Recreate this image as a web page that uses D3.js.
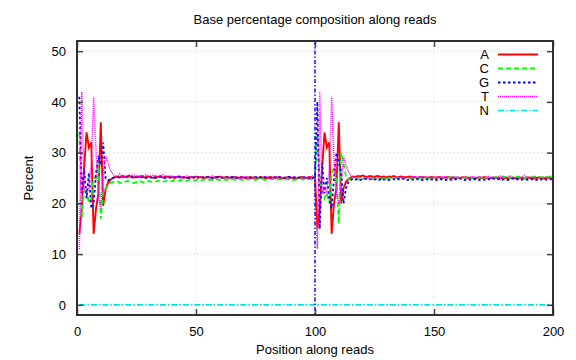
<!DOCTYPE html>
<html><head><meta charset="utf-8">
<script src="https://cdn.jsdelivr.net/npm/d3@7"></script>
<style>
html,body{margin:0;padding:0;background:#fff;}
svg{display:block;font-family:"Liberation Sans",Arial,Helvetica,sans-serif;}
</style></head>
<body><svg id="chart" width="576" height="360"></svg>
<script>
const title = "Base percentage composition along reads";
const xLabel = "Position along reads";
const yLabel = "Percent";
const xTicks = [0, 50, 100, 150, 200];
const yTicks = [0, 10, 20, 30, 40, 50];
const positions = d3.range(1, 201);
const seriesNames = ["A", "C", "G", "T", "N"];

const seriesA = [
  14,19,27,34,31,32,14,19,22,36,19.5,22.7,24,24.6,25,25.2,
  25.3,25.1,25.4,25.2,25.3,25.5,25.2,25.1,25.3,25.2, 25.4,25.2,25.1,25.3,25.2,25.0,25.3,25.2,25.4,25.1,
  25.2,25.3,25.1,25.2,25.0,25.2,25.3,25.1,25.2,25.0, 25.1,25.2,25.0,25.3,25.1,25.2,25.0,25.1,25.2,25.1,
  25.0,25.2,25.1,25.3,25.0,25.1,25.2,25.0,25.1,25.2, 25.1,25.0,25.2,25.1,24.9,25.1,25.2,25.0,25.1,25.0,
  25.2,25.1,24.9,25.0,25.2,25.1,25.0,25.1,25.2,24.9, 25.0,25.1,25.2,25.0,25.1,24.9,25.0,25.2,25.1,25.0,
  25.1,25.2,25.0,25.1,
  15,19,27,34,31,32,14,20,23,36,20,23,24.2,24.8,25.1,
  25.3,25.2,25.4,25.3,25.5,25.3,25.2,25.4,25.3,25.2, 25.4,25.3,25.2,25.3,25.1,25.3,25.2,25.4,25.2,25.1,
  25.3,25.2,25.1,25.2,25.3,25.1,25.2,25.0,25.2,25.1, 25.2,25.0,25.1,25.2,25.1,25.0,25.2,25.1,25.0,25.1,
  25.2,25.0,25.1,24.9,25.1,25.0,25.2,25.0,25.1,25.0, 25.1,24.9,25.0,25.1,25.0,25.2,25.0,24.9,25.1,25.0,
  25.1,25.0,24.9,25.0,25.1,25.0,24.9,25.1,25.0,24.9, 25.0,25.1,24.9,25.0,25.1,25.0,24.9,25.0,25.1,25.0,
  24.9,25.0,25.1,25.0,24.9
];
const seriesC = [
  34,17,23,23,20,21,25,25,28,17,22.5,22.9,23.5,24,24.2,24.3,
  24.3,24.1,24.0,24.2,24.4,24.3,24.1,24.0,24.2,24.4, 24.3,24.1,24.2,24.4,24.3,24.2,24.3,24.5,24.3,24.2,
  24.4,24.5,24.3,24.4,24.6,24.4,24.5,24.6,24.5,24.4, 24.6,24.7,24.5,24.6,24.7,24.5,24.6,24.8,24.6,24.7,
  24.6,24.8,24.7,24.6,24.8,24.7,24.6,24.7,24.9,24.7, 24.6,24.8,24.7,24.6,24.8,24.7,24.9,24.7,24.6,24.8,
  24.7,24.8,24.6,24.7,24.9,24.8,24.7,24.6,24.8,24.7, 24.8,24.7,24.9,24.8,24.6,24.7,24.8,24.9,24.7,24.8,
  24.7,24.8,24.6,24.8,
  34,24,23,21,22,20,26,27,25,16,30,27.8,25.3,24.7,24.7,
  24.8,24.9,24.7,24.9,25.0,24.8,24.9,25.0,24.8,24.9, 25.0,24.9,24.8,25.0,24.9,24.8,25.0,24.9,25.1,24.9,
  24.8,25.0,24.9,25.1,25.0,24.9,25.0,25.1,24.9,25.0, 25.1,25.0,24.9,25.1,25.0,25.2,25.0,24.9,25.1,25.0,
  25.1,25.2,25.0,25.1,25.0,25.2,25.1,25.0,25.2,25.1, 25.0,25.1,25.2,25.0,25.1,25.3,25.1,25.0,25.2,25.1,
  25.2,25.0,25.1,25.3,25.1,25.2,25.0,25.1,25.2,25.3, 25.1,25.2,25.0,25.1,25.2,25.1,25.3,25.2,25.1,25.2,
  25.0,25.1,25.2,25.3,25.1
];
const seriesG = [
  41,22,27,21,26,19,20,26,29,28,32,25,24.5,24.8,25,25.1,
  25.2,25.0,25.3,25.1,25.2,25.0,25.1,25.3,25.2,25.0, 25.1,25.2,25.0,25.3,25.1,25.2,25.0,25.1,25.2,25.1,
  25.0,25.2,25.1,25.0,25.2,25.1,25.3,25.0,25.1,25.2, 25.0,25.1,25.2,25.0,25.1,25.3,25.1,25.0,25.2,25.1,
  25.0,25.1,25.2,25.0,25.1,25.2,25.1,25.0,25.2,25.1, 25.0,25.2,25.1,25.0,25.1,25.2,25.0,25.1,25.2,25.0,
  25.1,25.0,25.2,25.1,25.0,25.1,25.2,25.0,25.1,25.2, 25.0,25.1,25.2,25.1,25.0,25.2,25.1,25.0,25.1,25.2,
  25.0,25.1,25.0,25.2,
  40,15,28,22,25,21,19,25,30,28,26,20,23,24.2,24.6,
  24.9,24.7,24.8,24.6,24.8,24.9,24.7,24.8,24.6,24.7, 24.8,24.6,24.9,24.7,24.8,24.6,24.7,24.8,24.6,24.8,
  24.7,24.9,24.7,24.6,24.8,24.7,24.6,24.8,24.7,24.6, 24.8,24.7,24.9,24.7,24.8,24.6,24.7,24.8,24.7,24.6,
  24.8,24.7,24.6,24.8,24.7,24.9,24.7,24.6,24.8,24.7, 24.6,24.8,24.7,24.6,24.8,24.7,24.6,24.8,24.7,24.9,
  24.7,24.8,24.6,24.7,24.8,24.6,24.7,24.9,24.7,24.8, 24.6,24.7,24.8,24.7,24.6,24.8,24.7,24.6,24.8,24.7,
  24.9,24.7,24.6,24.8,24.7
];
const seriesT = [
  11,42,23,22,23,28,41,30,21,19,26,29.4,28,26.6,25.8,25.4,
  25.2,25.8,25.3,25.5,25.1,25.2,25.6,25.6,25.3,25.4, 25.2,25.5,25.7,25.0,25.4,25.6,25.4,25.2,25.1,25.6,
  25.4,25.0,25.5,25.4,25.2,25.3,24.9,25.3,25.2,25.4, 25.3,25.0,25.3,25.1,25.1,25.0,25.3,25.1,25.0,25.1,
  25.4,24.9,25.0,25.1,25.1,25.0,25.1,25.3,24.8,25.0, 25.3,25.0,25.0,25.3,25.2,25.0,24.9,25.2,25.1,25.0,
  25.0,25.1,25.3,25.2,24.9,25.0,25.1,25.3,24.9,25.2, 25.2,25.1,24.7,25.1,25.3,25.2,25.1,24.9,25.1,25.0,
  25.2,24.9,25.4,24.9,
  11,42,22,23,22,27,41,28,22,20,24,29.2,27.5,26.3,25.6,
  25.0,25.2,25.1,25.2,24.7,25.0,25.2,24.8,25.3,25.2, 24.8,25.2,25.1,25.0,25.2,25.3,25.1,24.9,25.1,25.2,
  25.2,24.9,25.3,25.1,24.9,25.3,25.2,25.1,25.2,25.3, 24.9,25.3,25.1,25.0,25.2,25.2,25.1,25.2,25.2,25.3,
  24.9,25.1,25.3,25.2,25.2,24.9,25.1,25.4,24.9,25.1, 25.3,25.2,25.1,25.3,25.1,24.8,25.3,25.3,24.9,25.2,
  25.0,25.2,25.4,25.0,25.0,25.2,25.5,25.0,25.1,25.0, 25.2,25.0,25.5,25.2,25.1,25.2,25.1,25.2,25.0,25.1,
  25.2,25.2,25.1,24.9,25.3
];
const seriesN = [
  0,0,0,0,0,0,0,0,0,0, 0,0,0,0,0,0,0,0,0,0, 0,0,0,0,0,0,0,0,0,0, 0,0,0,0,0,0,0,0,0,0,
  0,0,0,0,0,0,0,0,0,0, 0,0,0,0,0,0,0,0,0,0, 0,0,0,0,0,0,0,0,0,0, 0,0,0,0,0,0,0,0,0,0,
  0,0,0,0,0,0,0,0,0,0, 0,0,0,0,0,0,0,0,0,0, 0,0,0,0,0,0,0,0,0,0, 0,0,0,0,0,0,0,0,0,0,
  0,0,0,0,0,0,0,0,0,0, 0,0,0,0,0,0,0,0,0,0, 0,0,0,0,0,0,0,0,0,0, 0,0,0,0,0,0,0,0,0,0,
  0,0,0,0,0,0,0,0,0,0, 0,0,0,0,0,0,0,0,0,0, 0,0,0,0,0,0,0,0,0,0, 0,0,0,0,0,0,0,0,0,0
];
const readBoundary = 100;

const seriesValues = [seriesA, seriesC, seriesG, seriesT, seriesN];
const styles = [
  {color:"#ff0000", dash:null, width:1.9},
  {color:"#00ff00", dash:"5,3", width:1.8},
  {color:"#0000ff", dash:"2.5,2.5", width:1.8},
  {color:"#ff00ff", dash:"1,1", width:1.4},
  {color:"#00e5e5", dash:"6,2,1.5,2", width:1.6}
];

const svg = d3.select("#chart");
const m = {left:77, right:553, top:41, bottom:315};
const x = d3.scaleLinear().domain([0,200]).range([m.left, m.right]);
const y = d3.scaleLinear().domain([-2,52]).range([m.bottom, m.top]);
const fs = 13;

// grid
const grid = svg.append("g");
grid.selectAll("line.gy").data(yTicks).join("line")
  .attr("x1", m.left).attr("x2", m.right)
  .attr("y1", d=>y(d)).attr("y2", d=>y(d))
  .attr("stroke","#d0d0d0").attr("stroke-width",1).attr("stroke-dasharray","1,3");
grid.selectAll("line.gx").data(xTicks.slice(1,-1)).join("line")
  .attr("y1", m.top).attr("y2", m.bottom)
  .attr("x1", d=>x(d)).attr("x2", d=>x(d))
  .attr("stroke","#d0d0d0").attr("stroke-width",1).attr("stroke-dasharray","1,3");

svg.append("clipPath").attr("id","clip").append("rect")
  .attr("x", m.left).attr("y", m.top).attr("width", m.right-m.left).attr("height", m.bottom-m.top);

const line = d3.line().x((d,i)=>x(positions[i])).y(d=>y(d));
const plot = svg.append("g").attr("clip-path","url(#clip)");
seriesValues.forEach((vals, k) => {
  plot.append("path").datum(vals)
    .attr("d", line)
    .attr("fill","none")
    .attr("stroke", styles[k].color)
    .attr("stroke-width", styles[k].width)
    .attr("stroke-dasharray", styles[k].dash)
    .attr("stroke-linejoin","miter");
});

// read boundary
plot.append("line")
  .attr("x1", x(readBoundary)).attr("x2", x(readBoundary))
  .attr("y1", m.top).attr("y2", m.bottom)
  .attr("stroke","#0000ff").attr("stroke-width",1.4).attr("stroke-dasharray","4,2,1.5,2");

// axes with inward ticks, mirrored
const axB = d3.axisBottom(x).tickValues(xTicks).tickSize(-6).tickPadding(12).tickFormat(d3.format("d"));
const axT = d3.axisTop(x).tickValues(xTicks).tickSize(-6).tickFormat("");
const axL = d3.axisLeft(y).tickValues(yTicks).tickSize(-6).tickPadding(11).tickFormat(d3.format("d"));
const axR = d3.axisRight(y).tickValues(yTicks).tickSize(-6).tickFormat("");
function styleAxis(g){
  g.select(".domain").remove();
  g.selectAll(".tick line").attr("stroke","#404040").attr("stroke-width",1.5);
  g.selectAll(".tick text").attr("fill","#000").style("font-size", fs+"px")
    .style("font-family",'"Liberation Sans",Arial,sans-serif');
}
svg.append("g").attr("transform",`translate(0,${m.bottom})`).call(axB).call(styleAxis);
svg.append("g").attr("transform",`translate(0,${m.top})`).call(axT).call(styleAxis);
svg.append("g").attr("transform",`translate(${m.left},0)`).call(axL).call(styleAxis);
svg.append("g").attr("transform",`translate(${m.right},0)`).call(axR).call(styleAxis);

// frame
svg.append("rect").attr("x", m.left).attr("y", m.top)
  .attr("width", m.right-m.left).attr("height", m.bottom-m.top)
  .attr("fill","none").attr("stroke","#303030").attr("stroke-width",2);

// titles
svg.append("text").attr("x", 315).attr("y", 24).attr("text-anchor","middle")
  .style("font-size", fs+"px").text(title);
svg.append("text").attr("x", 315).attr("y", 354).attr("text-anchor","middle")
  .style("font-size", fs+"px").text(xLabel);
svg.append("text").attr("transform","translate(33,178) rotate(-90)").attr("text-anchor","middle")
  .style("font-size", fs+"px").text(yLabel);

// legend
const leg = svg.append("g");
seriesNames.forEach((name, k) => {
  const yy = 54.5 + k*14;
  leg.append("text").attr("x", 489).attr("y", yy).attr("dy","0.35em")
    .attr("text-anchor","end").style("font-size", fs+"px").text(name);
  leg.append("line").attr("x1", 498).attr("x2", 538).attr("y1", yy).attr("y2", yy)
    .attr("stroke", styles[k].color).attr("stroke-width", styles[k].width)
    .attr("stroke-dasharray", styles[k].dash);
});
</script></body></html>
